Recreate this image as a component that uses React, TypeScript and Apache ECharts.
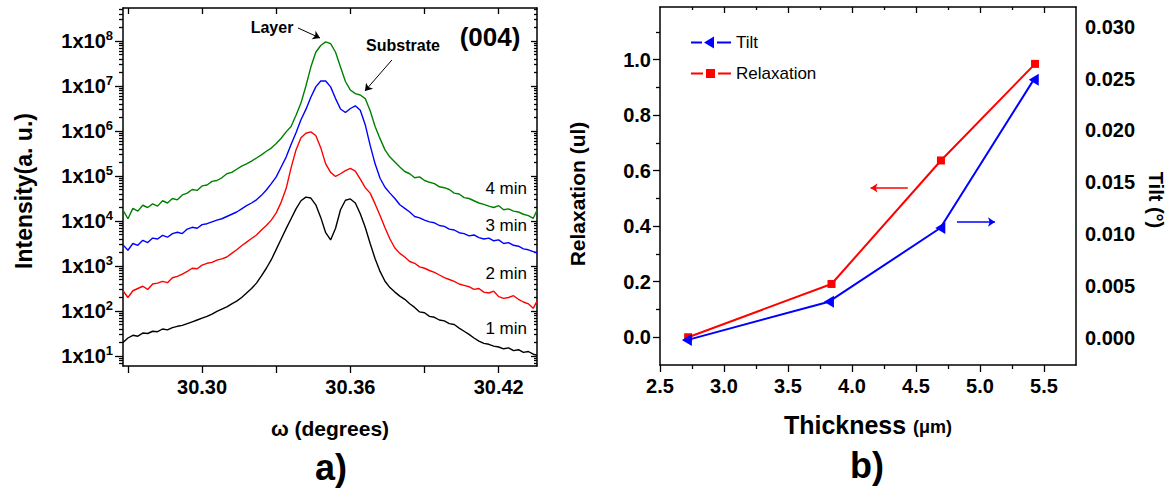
import React, { useEffect, useRef } from "react";
import * as echarts from "echarts";

// ---------- Panel a) : omega scan, log10(intensity) ----------
const omega = [
  30.268, 30.27, 30.272, 30.274, 30.276, 30.278, 30.28, 30.282, 30.284, 30.286,
  30.288, 30.29, 30.292, 30.294, 30.296, 30.298, 30.3, 30.302, 30.304, 30.306,
  30.308, 30.31, 30.312, 30.314, 30.316, 30.318, 30.32, 30.322, 30.324, 30.326,
  30.328, 30.33, 30.332, 30.334, 30.336, 30.338, 30.34, 30.342, 30.344, 30.346,
  30.348, 30.35, 30.352, 30.354, 30.356, 30.358, 30.36, 30.362, 30.364, 30.366,
  30.368, 30.37, 30.372, 30.374, 30.376, 30.378, 30.38, 30.382, 30.384, 30.386,
  30.388, 30.39, 30.392, 30.394, 30.396, 30.398, 30.4, 30.402, 30.404, 30.406,
  30.408, 30.41, 30.412, 30.414, 30.416, 30.418, 30.42, 30.422, 30.424, 30.426,
  30.428, 30.43, 30.432, 30.434, 30.4355,
];

const log4min = [
  4.24, 4.05, 4.28, 4.22, 4.35, 4.3, 4.38, 4.33, 4.45, 4.4,
  4.5, 4.47, 4.58, 4.62, 4.7, 4.68, 4.78, 4.8, 4.88, 4.9,
  4.96, 5.05, 5.08, 5.15, 5.22, 5.27, 5.33, 5.4, 5.47, 5.55,
  5.62, 5.72, 5.84, 5.98, 6.1, 6.35, 6.62, 7.0, 7.42, 7.75,
  7.9, 7.98, 7.94, 7.75, 7.42, 7.1, 6.91, 6.83, 6.8, 6.72,
  6.45, 6.1, 5.83, 5.58, 5.42, 5.31, 5.2, 5.1, 5.05, 4.96,
  4.98, 4.9, 4.86, 4.83, 4.76, 4.74, 4.7, 4.62, 4.6, 4.52,
  4.5, 4.45, 4.4, 4.37, 4.33, 4.3, 4.34, 4.25, 4.27, 4.22,
  4.2, 4.15, 4.12, 4.06, 4.24,
];

const log3min = [
  3.47, 3.35, 3.5, 3.46, 3.57, 3.52, 3.62, 3.6, 3.68, 3.64,
  3.72, 3.75, 3.72, 3.82, 3.86, 3.84, 3.92, 3.94, 3.98, 4.02,
  4.05, 4.1, 4.15, 4.2, 4.27, 4.34, 4.4, 4.47, 4.57, 4.69,
  4.83, 4.98, 5.2, 5.42, 5.7, 5.96, 6.25, 6.48, 6.75, 6.98,
  7.11, 7.11, 6.98, 6.72, 6.49, 6.41, 6.5, 6.56, 6.46, 6.14,
  5.68, 5.27, 4.95, 4.75, 4.62, 4.5, 4.36, 4.28, 4.2, 4.1,
  4.07, 4.02, 3.98, 3.96, 3.9, 3.88, 3.82, 3.8, 3.74, 3.72,
  3.67, 3.69, 3.63, 3.6, 3.62, 3.56, 3.58, 3.5, 3.52, 3.46,
  3.44, 3.38, 3.36, 3.32, 3.29,
];

const log2min = [
  2.45, 2.3, 2.45, 2.5, 2.55, 2.48, 2.6, 2.62, 2.66, 2.63,
  2.74, 2.77, 2.82, 2.88, 2.95, 2.94, 3.02, 3.06, 3.08, 3.13,
  3.16, 3.2, 3.28, 3.36, 3.45, 3.53, 3.61, 3.69, 3.8, 3.9,
  4.02, 4.18, 4.42, 4.72, 5.18, 5.58, 5.85, 5.95, 5.98, 5.9,
  5.63, 5.27, 5.08, 4.99, 5.05, 5.12, 5.17, 5.11, 4.93, 4.74,
  4.62, 4.38, 4.12, 3.85, 3.6, 3.4, 3.28, 3.2, 3.1, 3.06,
  2.98, 2.95, 2.9, 2.86, 2.8, 2.74, 2.7, 2.66, 2.6, 2.57,
  2.54, 2.48, 2.5, 2.42, 2.4, 2.44, 2.32, 2.28, 2.3, 2.34,
  2.26, 2.2, 2.16, 2.06, 2.22,
];

const log1min = [
  1.3, 1.4, 1.46, 1.44, 1.51, 1.5, 1.55, 1.54, 1.6, 1.58,
  1.63, 1.66, 1.68, 1.72, 1.76, 1.8, 1.84, 1.88, 1.93, 1.99,
  2.04, 2.09, 2.16, 2.22, 2.3, 2.4, 2.5, 2.62, 2.78, 2.95,
  3.14, 3.37, 3.6, 3.83, 4.05, 4.27, 4.45, 4.53, 4.51, 4.36,
  4.08, 3.74, 3.58, 3.84, 4.25, 4.46, 4.49, 4.4, 4.16, 3.86,
  3.5, 3.16, 2.88, 2.66, 2.52, 2.42, 2.33, 2.26, 2.16, 2.08,
  1.98, 1.96, 1.88, 1.86, 1.8, 1.78, 1.72, 1.7, 1.62, 1.55,
  1.48, 1.4, 1.33, 1.28, 1.26, 1.22, 1.2, 1.16, 1.18, 1.12,
  1.14, 1.08, 1.1, 1.04, 1.02,
];

const omegaTicks = [30.27, 30.3, 30.33, 30.36, 30.39, 30.42];
const omegaLabels = [30.3, 30.36, 30.42];
const decades = [1, 2, 3, 4, 5, 6, 7, 8];
const curveNames = ["1 min", "2 min", "3 min", "4 min"];

// ---------- Panel b) ----------
const thicknessRelax = [2.72, 3.84, 4.695, 5.43];
const relaxation = [0.0, 0.192, 0.637, 0.985];
const thicknessTilt = [2.71, 3.82, 4.69, 5.42];
const tilt = [-0.0002, 0.0035, 0.0106, 0.0249];
const thickLabels = [2.5, 3.0, 3.5, 4.0, 4.5, 5.0, 5.5];
const thickMinor = [2.75, 3.25, 3.75, 4.25, 4.75, 5.25];
const relaxMajor = [0, 0.2, 0.4, 0.6, 0.8, 1.0];
const relaxMinor = [0.1, 0.3, 0.5, 0.7, 0.9, 1.1];
const tiltLabels = [0, 0.005, 0.01, 0.015, 0.02, 0.025, 0.03];

const FF = "'Liberation Sans', Arial, sans-serif";

export default function App() {
  const ref = useRef<HTMLDivElement>(null);

  useEffect(() => {
    if (!ref.current) return;
    const chart = echarts.init(ref.current, undefined, { renderer: "svg" });

    const minorLog: number[] = [];
    for (let n = 0; n <= 8; n++) {
      for (let m = 2; m <= 9; m++) {
        const v = n + Math.log10(m);
        if (v > 0.79 && v < 8.72) minorLog.push(v);
      }
    }

    const black = "#000";
    const axLine = { show: true, onZero: false, lineStyle: { color: black, width: 1.5 } };
    const noLine = { show: false, onZero: false };
    const tick = (len: number, vals: number[], inside = false) => ({
      show: true,
      inside,
      length: len,
      customValues: vals,
      lineStyle: { color: black, width: 1.3 },
    });
    const noLabel = { show: false };
    const lblBase = { color: black, fontSize: 20, fontWeight: "bold", fontFamily: FF };
    const off = { show: false };

    const colors = ["#000000", "#ff0000", "#0000ff", "#008000"];
    const curves = [log1min, log2min, log3min, log4min];

    const leftSeries = curves.map((arr, ci) => ({
      name: curveNames[ci],
      type: "line",
      xAxisIndex: 0,
      yAxisIndex: 0,
      data: omega.map((w, i) => [w, arr[i]]),
      symbol: "none",
      lineStyle: { color: colors[ci], width: 1.4 },
      itemStyle: { color: colors[ci] },
      z: 3,
      ...(ci === 3
        ? {
            markLine: {
              silent: true,
              symbol: ["none", "arrow"],
              symbolSize: 7,
              lineStyle: { color: black, width: 1, type: "solid" },
              label: { show: false },
              data: [
                [{ coord: [30.3388, 8.289] }, { coord: [30.3477, 8.066] }],
                [{ coord: [30.3768, 7.578] }, { coord: [30.3659, 6.889] }],
              ],
            },
          }
        : {}),
    }));

    const option: any = {
      animation: false,
      backgroundColor: "#fff",
      textStyle: { fontFamily: FF },
      grid: [
        { left: 123, top: 8, width: 414, height: 358, outerBoundsMode: "none" },
        { left: 660, top: 7, width: 416, height: 358, outerBoundsMode: "none" },
      ],
      legend: {
        data: [
          { name: "Tilt", icon: "path://M0,5H11V7H0Z M13,6L23,0V12Z M26,5H40V7H26Z" },
          { name: "Relaxation", icon: "path://M0,5H12V7H0Z M15,1.5H24V10.5H15Z M27,5H40V7H27Z" },
        ],
        orient: "vertical",
        left: 686,
        top: 29,
        itemWidth: 40,
        itemHeight: 12,
        itemGap: 14,
        textStyle: { fontSize: 17, fontFamily: FF, color: black },
      },
      xAxis: [
        {
          gridIndex: 0, type: "value", position: "bottom", min: 30.268, max: 30.4355,
          axisLine: axLine, axisTick: tick(7, omegaTicks),
          axisLabel: { ...lblBase, customValues: omegaLabels, margin: 11, formatter: (v: number) => v.toFixed(2) },
          splitLine: off,
        },
        {
          gridIndex: 0, type: "value", position: "top", min: 30.268, max: 30.4355,
          axisLine: axLine, axisTick: tick(6, omegaTicks, true), axisLabel: noLabel, splitLine: off,
        },
        {
          gridIndex: 1, type: "value", position: "bottom", min: 2.5, max: 5.75,
          axisLine: axLine, axisTick: tick(7, thickLabels),
          axisLabel: { ...lblBase, customValues: thickLabels, margin: 11, formatter: (v: number) => v.toFixed(1) },
          splitLine: off,
        },
        {
          gridIndex: 1, type: "value", position: "bottom", min: 2.5, max: 5.75,
          axisLine: noLine, axisTick: tick(4, thickMinor), axisLabel: noLabel, splitLine: off,
        },
        {
          gridIndex: 1, type: "value", position: "top", min: 2.5, max: 5.75,
          axisLine: axLine, axisTick: tick(6, thickLabels.slice(1), true), axisLabel: noLabel, splitLine: off,
        },
        {
          gridIndex: 1, type: "value", position: "top", min: 2.5, max: 5.75,
          axisLine: noLine, axisTick: tick(3, thickMinor, true), axisLabel: noLabel, splitLine: off,
        },
      ],
      yAxis: [
        {
          gridIndex: 0, type: "value", position: "left", min: 0.778, max: 8.733,
          axisLine: axLine, axisTick: tick(8, decades),
          axisLabel: {
            ...lblBase,
            customValues: decades,
            margin: 10,
            formatter: (v: number) => `1x10{s|${Math.round(v)}}`,
            rich: {
              s: { fontSize: 13, fontWeight: "bold", fontFamily: FF, color: black, padding: [0, 0, 11, 0] },
            },
          },
          splitLine: off,
        },
        {
          gridIndex: 0, type: "value", position: "left", min: 0.778, max: 8.733,
          axisLine: noLine, axisTick: tick(4, minorLog), axisLabel: noLabel, splitLine: off,
        },
        {
          gridIndex: 0, type: "value", position: "right", min: 0.778, max: 8.733,
          axisLine: axLine, axisTick: tick(6, decades, true), axisLabel: noLabel, splitLine: off,
        },
        {
          gridIndex: 0, type: "value", position: "right", min: 0.778, max: 8.733,
          axisLine: noLine, axisTick: tick(3, minorLog, true), axisLabel: noLabel, splitLine: off,
        },
        {
          gridIndex: 1, type: "value", position: "left", min: -0.1, max: 1.19,
          axisLine: axLine, axisTick: tick(7, relaxMajor),
          axisLabel: { ...lblBase, customValues: relaxMajor, margin: 9, formatter: (v: number) => v.toFixed(1) },
          splitLine: off,
        },
        {
          gridIndex: 1, type: "value", position: "left", min: -0.1, max: 1.19,
          axisLine: noLine, axisTick: tick(4, relaxMinor), axisLabel: noLabel, splitLine: off,
        },
        {
          gridIndex: 1, type: "value", position: "right", min: -0.0026, max: 0.0319,
          axisLine: axLine, axisTick: { show: false },
          axisLabel: { ...lblBase, customValues: tiltLabels, margin: 9, formatter: (v: number) => v.toFixed(3) },
          splitLine: off,
        },
      ],
      series: [
        ...leftSeries,
        {
          name: "Tilt",
          type: "line",
          xAxisIndex: 2,
          yAxisIndex: 6,
          data: thicknessTilt.map((x, i) => [x, tilt[i]]),
          symbol: "triangle",
          symbolRotate: 90,
          symbolSize: [12, 10],
          lineStyle: { color: "#0000ff", width: 2 },
          itemStyle: { color: "#0000ff" },
          z: 4,
          markLine: {
            silent: true,
            symbol: ["none", "arrow"],
            symbolSize: 7,
            lineStyle: { color: "#0000ff", width: 1.5, type: "solid" },
            label: { show: false },
            data: [[{ coord: [4.82, 0.01118] }, { coord: [5.117, 0.01118] }]],
          },
        },
        {
          name: "Relaxation",
          type: "line",
          xAxisIndex: 2,
          yAxisIndex: 4,
          data: thicknessRelax.map((x, i) => [x, relaxation[i]]),
          symbol: "rect",
          symbolSize: 8,
          lineStyle: { color: "#ff0000", width: 2 },
          itemStyle: { color: "#ff0000" },
          z: 3,
          markLine: {
            silent: true,
            symbol: ["none", "arrow"],
            symbolSize: 7,
            lineStyle: { color: "#ff0000", width: 1.5, type: "solid" },
            label: { show: false },
            data: [[{ coord: [4.436, 0.538] }, { coord: [4.145, 0.538] }]],
          },
        },
      ],
      graphic: [
        {
          type: "text", x: 24, y: 191, rotation: Math.PI / 2,
          style: { text: "Intensity(a. u.)", align: "center", verticalAlign: "middle", font: `bold 23px ${FF}`, fill: black },
        },
        {
          type: "text", x: 330, y: 428,
          style: { text: "ω (degrees)", align: "center", verticalAlign: "middle", font: `bold 21px ${FF}`, fill: black },
        },
        {
          type: "text", x: 331, y: 467,
          style: { text: "a)", align: "center", verticalAlign: "middle", font: `bold 36px ${FF}`, fill: black },
        },
        {
          type: "text", x: 272, y: 27,
          style: { text: "Layer", align: "center", verticalAlign: "middle", font: `bold 16px ${FF}`, fill: black },
        },
        {
          type: "text", x: 403, y: 45,
          style: { text: "Substrate", align: "center", verticalAlign: "middle", font: `bold 16px ${FF}`, fill: black },
        },
        {
          type: "text", x: 490, y: 37,
          style: { text: "(004)", align: "center", verticalAlign: "middle", font: `bold 26px ${FF}`, fill: black },
        },
        ...[
          ["4 min", 188],
          ["3 min", 225],
          ["2 min", 273],
          ["1 min", 328],
        ].map(([t, y]) => ({
          type: "text", x: 527, y: y as number,
          style: { text: t as string, align: "right", verticalAlign: "middle", font: `17px ${FF}`, fill: black },
        })),
        {
          type: "text", x: 577, y: 194, rotation: Math.PI / 2,
          style: { text: "Relaxation (ul)", align: "center", verticalAlign: "middle", font: `bold 21px ${FF}`, fill: black },
        },
        {
          type: "text", x: 1156, y: 200, rotation: -Math.PI / 2,
          style: { text: "Tilt (°)", align: "center", verticalAlign: "middle", font: `bold 20px ${FF}`, fill: black },
        },
        {
          type: "text", x: 868, y: 425,
          style: {
            text: "{a|Thickness }{b|(μm)}",
            align: "center",
            verticalAlign: "middle",
            rich: {
              a: { fontSize: 25, fontWeight: "bold", fontFamily: FF, fill: black },
              b: { fontSize: 18, fontWeight: "bold", fontFamily: FF, fill: black, padding: [4, 0, 0, 0] },
            },
          },
        },
        {
          type: "text", x: 867, y: 465,
          style: { text: "b)", align: "center", verticalAlign: "middle", font: `bold 36px ${FF}`, fill: black },
        },
      ],
    };

    chart.setOption(option);
    return () => chart.dispose();
  }, []);

  return (
    <div
      ref={ref}
      style={{ position: "fixed", left: 0, top: 0, width: 1169, height: 489, background: "#fff" }}
    />
  );
}
